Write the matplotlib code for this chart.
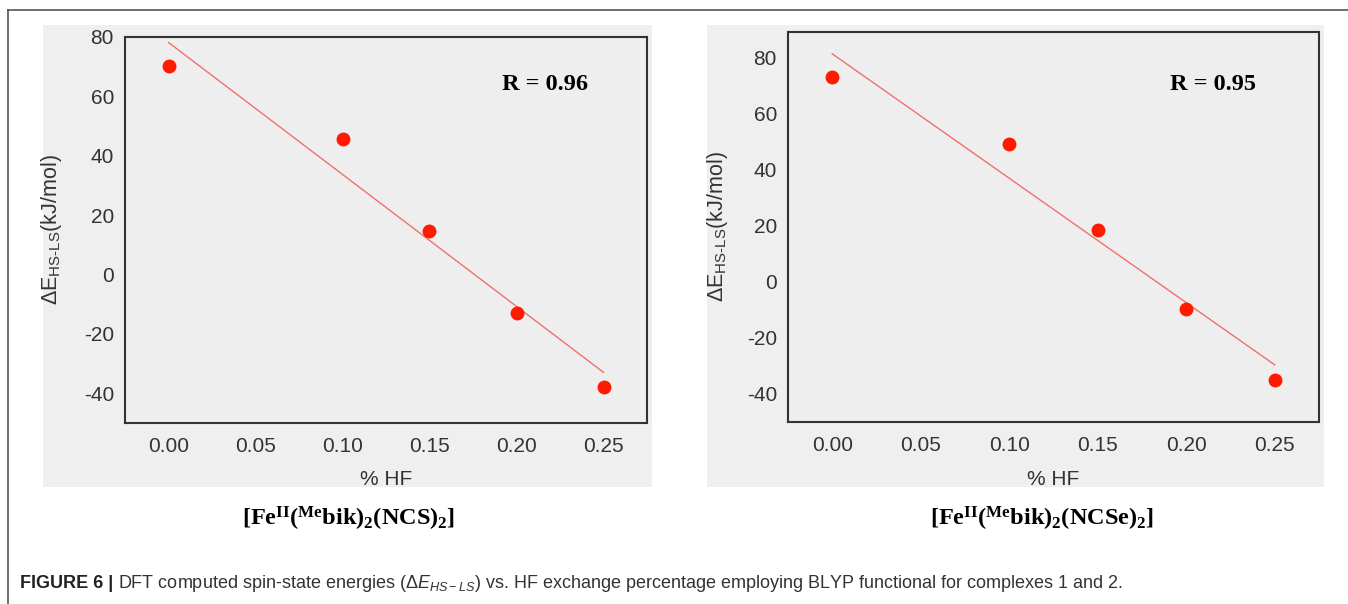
import numpy as np
import matplotlib
matplotlib.use("Agg")
import matplotlib.pyplot as plt
from matplotlib.patches import Rectangle

# % HF exchange and spin-state energies (kJ/mol)
hf = [0.00, 0.10, 0.15, 0.20, 0.25]
de_ncs = [70.2, 45.5, 14.8, -12.9, -37.9]
de_ncse = [72.8, 49.1, 18.6, -9.8, -35.0]
r_values = ["R = 0.96", "R = 0.95"]
x_ticks = [0.00, 0.05, 0.10, 0.15, 0.20, 0.25]
y_ticks = [-40, -20, 0, 20, 40, 60, 80]
titles = [r"[Fe$^{II}$($^{Me}$bik)$_2$(NCS)$_2$]",
          r"[Fe$^{II}$($^{Me}$bik)$_2$(NCSe)$_2$]"]

plt.rcParams["font.family"] = ["Liberation Sans", "DejaVu Sans"]
plt.rcParams["mathtext.fontset"] = "custom"
plt.rcParams["mathtext.rm"] = "Liberation Sans"
plt.rcParams["mathtext.it"] = "Liberation Sans:italic"
plt.rcParams["mathtext.bf"] = "Liberation Sans:bold"
plt.rcParams["mathtext.default"] = "regular"
plt.rcParams["axes.unicode_minus"] = False

W, H = 1348, 604
fig = plt.figure(figsize=(W / 100, H / 100), dpi=100)


def box(x0, y0, x1, y1):
    # pixel box (top-left origin) -> figure fraction rect
    return [x0 / W, 1 - y1 / H, (x1 - x0) / W, (y1 - y0) / H]


# outer frame lines (top and left)
fig.add_artist(plt.Line2D([8 / W, 1], [1 - 10 / H, 1 - 10 / H], color="#555555", lw=1.2))
fig.add_artist(plt.Line2D([8 / W, 8 / W], [0, 1 - 10 / H], color="#555555", lw=1.2))

panels = [
    dict(bg=(43, 25, 652, 487), ax=(125, 37, 647, 423), ylim=(-50, 80),
         data=de_ncs, ylab_x=64, xlab_y=470, title_x=349, r_xy=(588, 85)),
    dict(bg=(707, 25, 1324, 487), ax=(788, 32, 1319, 422), ylim=(-50, 89),
         data=de_ncse, ylab_x=730, xlab_y=470, title_x=1042, r_xy=(1256, 84)),
]

for i, p in enumerate(panels):
    bx = box(*p["bg"])
    fig.add_artist(Rectangle((bx[0], bx[1]), bx[2], bx[3], transform=fig.transFigure,
                             facecolor="#efefef", edgecolor="none", zorder=0))
    ax = fig.add_axes(box(*p["ax"]))
    ax.set_facecolor("#eeeeee")
    ax.set_xlim(-0.025, 0.275)
    ax.set_ylim(*p["ylim"])
    ax.set_xticks(x_ticks)
    ax.set_xticklabels([f"{t:.2f}" for t in x_ticks])
    ax.set_yticks(y_ticks)
    ax.tick_params(length=0, labelsize=15, labelcolor="#333333")
    ax.tick_params(axis="x", pad=10)
    ax.tick_params(axis="y", pad=8)
    for s in ax.spines.values():
        s.set_linewidth(1.5)
        s.set_color("#333333")

    # linear fit line
    slope, icpt = np.polyfit(hf, p["data"], 1)
    xf = np.array([hf[0], hf[-1]])
    ax.plot(xf, slope * xf + icpt, color="#f07070", lw=1.0, zorder=2)
    ax.scatter(hf, p["data"], s=100, color="#ff1a00", zorder=3, linewidths=0)

    fig.text(p["r_xy"][0] / W, 1 - p["r_xy"][1] / H, r_values[i], ha="right", va="center",
             fontsize=17.5, fontweight="bold", family="Liberation Serif")

    ax.set_xlabel("% HF", fontsize=15, color="#333333")
    ax.set_ylabel(r"$\Delta$E$_{\text{HS-LS}}$(kJ/mol)", fontsize=15.5, color="#333333")
    ax.yaxis.set_label_coords((p["ylab_x"] - p["ax"][0]) / (p["ax"][2] - p["ax"][0]), 0.5)
    ax.xaxis.set_label_coords(0.5, -(p["xlab_y"] - p["ax"][3]) / (p["ax"][3] - p["ax"][1]))

    fig.text(p["title_x"] / W, 1 - 519 / H, titles[i], ha="center", va="center",
             fontsize=17.5, fontweight="bold", family="Liberation Serif")

# caption: bold label followed by regular text
cap_y = 1 - 583 / H
t1 = fig.text(20 / W, cap_y, "FIGURE 6 |", ha="left", va="center", fontsize=13,
              fontweight="bold", color="#222222")
fig.canvas.draw()
bb = t1.get_window_extent(renderer=fig.canvas.get_renderer())
fig.text((bb.x1 + 5) / W, cap_y,
         r"DFT computed spin-state energies ($\mathit{\Delta E_{HS-LS}}$) vs. HF exchange "
         r"percentage employing BLYP functional for complexes 1 and 2.",
         ha="left", va="center", fontsize=13, color="#333333")

fig.savefig("out.png", dpi=100)
